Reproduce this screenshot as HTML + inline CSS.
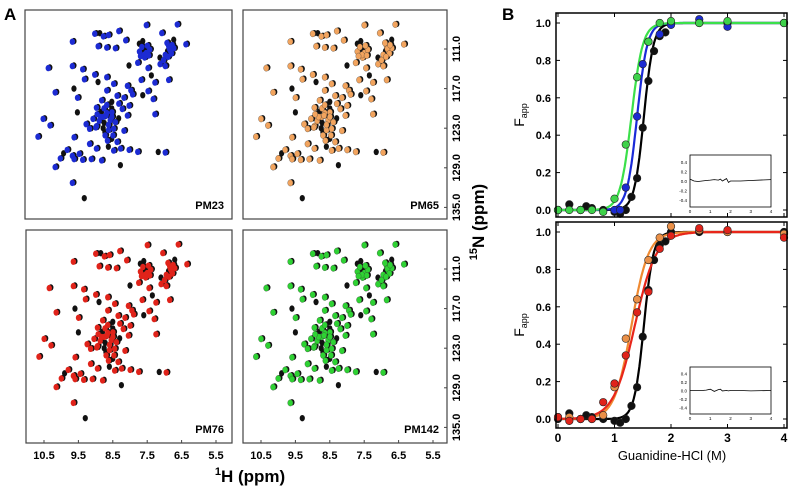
<!DOCTYPE html>
<html><head><meta charset="utf-8"><style>
html,body{margin:0;padding:0;background:#fff;width:792px;height:489px;overflow:hidden}
svg{display:block;font-family:"Liberation Sans",Arial,sans-serif}
</style></head><body>
<svg id="fig" width="792" height="489" viewBox="0 0 792 489"></svg>
<script>
// ---------- NMR data (ppm) ----------
const peakH=[9.6,8.95,8.85,8.7,8.55,8.25,8.05,7.6,7.45,7.0,6.55,6.3,6.7,6.8,6.75,6.9,6.65,7.55,7.45,7.65,7.5,7.35,7.7,8.35,8.6,8.85,7.05,7.1,
10.3,9.6,9.3,8.95,8.0,7.7,7.4,6.9,9.25,8.9,8.6,8.4,8.0,7.6,7.35,7.2,6.8,7.9,10.1,9.6,8.6,8.3,8.1,7.85,7.6,7.4,7.25,9.45,8.75,8.5,8.25,8.15,7.95,8.9,8.8,8.6,8.45,8.7,8.5,8.3,8.0,7.2,10.45,10.25,9.5,9.0,9.2,9.1,8.9,8.75,8.55,8.4,8.1,8.65,8.5,8.3,9.55,9.1,8.9,8.6,8.4,8.2,7.95,7.7,7.15,6.9,9.6,9.4,9.75,9.9,9.55,9.3,9.05,8.75,8.25,10.1,9.95,10.6,9.6,9.3,
7.58,7.52,7.42,7.62,7.48,7.38,6.85,6.78,6.72,6.88,6.82,6.7,6.95,8.82,8.72,8.62,8.55,8.68,8.78,8.5,8.42,8.35,8.92,8.88,8.7,8.6,8.45,8.58];
const peakN=[109.8,108.6,108.6,109.0,108.8,108.2,109.6,109.8,107.3,108.5,107.2,110.2,109.6,110.5,111.2,111.8,110.8,111.0,111.5,111.3,112.2,111.0,110.2,110.8,110.7,110.5,113.2,112.3,
113.8,113.5,114.0,114.8,113.5,113.0,113.8,113.5,115.5,116.0,115.2,116.2,116.5,115.6,115.0,116.0,115.6,117.2,117.5,117.0,117.2,118.0,118.3,117.8,118.0,117.3,118.5,118.3,118.7,119.0,119.2,120.0,119.5,119.8,120.5,120.6,120.5,121.2,121.7,121.5,121.0,120.8,121.5,122.5,120.6,121.5,122.3,123.0,122.6,123.0,123.2,123.0,123.3,124.0,124.6,125.0,124.3,125.3,126.0,125.8,126.3,126.0,126.2,126.5,126.6,126.6,127.1,126.8,126.2,126.8,127.6,127.7,127.6,127.8,128.6,128.8,127.5,124.2,131.2,133.6,
110.6,111.8,110.4,112.0,110.9,111.9,110.0,110.9,111.6,111.3,112.1,110.3,112.6,121.8,122.2,121.0,122.4,119.9,121.2,120.0,124.0,122.0,122.8,120.8,123.6,119.4,121.2,124.8];
const hTicks=[10.5,9.5,8.5,7.5,6.5,5.5];
const nTicks=[111.0,117.0,123.0,129.0,135.0];
const spectraNames=["PM23","PM65","PM76","PM142"];
const spectraColors=["#1c2bd2","#f2a45e","#e0231a","#2ed233"];
// ---------- Denaturation data ----------
const gdnX=[0,0.2,0.4,0.5,0.6,0.8,1.0,1.1,1.2,1.3,1.4,1.5,1.6,1.7,1.8,1.9,2.0,2.5,3.0,4.0];
const wtY=[0.0,0.03,0.0,0.02,0.01,0.0,-0.01,-0.02,0.0,0.07,0.17,0.44,0.69,0.85,0.93,0.95,1.0,1.0,1.0,1.0];
const pm23X=[0,0.4,1.0,1.1,1.2,1.4,1.5,1.6,1.8,2.0,2.5,3.0,4.0];
const pm23Y=[0,0,0.0,0.0,0.12,0.50,0.78,0.9,0.94,0.99,1.02,0.98,1.0];
const pm142X=[0,0.2,0.4,0.6,0.8,1.0,1.2,1.4,1.6,1.8,2.0,2.5,3.0,4.0];
const pm142Y=[0,0,0,0,-0.01,0.06,0.35,0.71,0.9,1.0,1.01,1.0,1.01,1.0];
const pm65X=[0,0.2,0.4,0.6,0.8,1.0,1.2,1.4,1.6,1.8,2.0,2.5,3.0,4.0];
const pm65Y=[0.01,0.01,0,0,0.02,0.17,0.43,0.64,0.85,0.97,1.03,1.01,1.0,0.99];
const pm76X=[0,0.2,0.4,0.6,0.8,1.0,1.2,1.4,1.6,1.8,2.0,2.5,3.0,4.0];
const pm76Y=[0.01,-0.01,0,0,0.09,0.19,0.34,0.57,0.68,0.91,0.98,1.02,1.01,0.97];
// fit parameters [midpoint, width]
const fitWT=[1.52,0.085],fitPM23=[1.4,0.09],fitPM142=[1.3,0.1],fitPM65=[1.3,0.15],fitPM76=[1.36,0.19];
const fTicks=[0.0,0.2,0.4,0.6,0.8,1.0];
const gTicks=[0,1,2,3,4];
const resX=[0,0.2,0.4,0.6,0.8,1.0,1.2,1.4,1.5,1.6,1.8,1.9,2.0,2.5,3.0,4.0];
const resTop=[0.04,0.0,-0.01,0.0,0.01,0.02,0.03,0.02,0.04,0.0,0.05,-0.03,0.0,0.0,0.01,0.03];
const resBot=[0,0,0,0,0.01,0.03,-0.02,0.02,0.03,-0.01,0.0,-0.01,0.0,0,-0.01,0];

const NS="http://www.w3.org/2000/svg";
const svg=document.getElementById('fig');
function mk(tag,attrs,parent,text){const e=document.createElementNS(NS,tag);for(const k in attrs)e.setAttribute(k,attrs[k]);if(text!==undefined)e.textContent=text;(parent||svg).appendChild(e);return e;}

// ---------- Panel A ----------
let t=mk('text',{x:4,y:20,'font-size':17,'font-weight':'bold'},svg,'A');


const boxes=[[25,10,232,219],[243,10,447,219],[26,230,232,443],[243,230,447,443]];
boxes.forEach((b,i)=>{
  const g=mk('g',{});
  
  
  const left=b[0],top=b[1];
  const hx=h=>left+18+(10.5-h)*34.4;
  const ny=n=>top+39+(n-111)*6.6;
  peakH.forEach((h,j)=>{
    const e=mk('ellipse',{cx:hx(h),cy:ny(peakN[j]),rx:2.6,ry:3.2,fill:'#111'},g);
    
    
  });
  peakH.forEach((h,j)=>{
    if(j%5===2) return;
    const e=mk('ellipse',{cx:hx(h)-1.6,cy:ny(peakN[j])+0.6,rx:2.7,ry:3.2,fill:spectraColors[i],stroke:i==1||i==3?'#333':'none','stroke-width':0.3},g);
    
    
  });
  const r=mk('rect',{x:b[0],y:b[1],width:b[2]-b[0],height:b[3]-b[1],fill:'none',stroke:'#444','stroke-width':1.2},g);
  
  
  const lb=mk('text',{x:b[2]-8,y:b[3]-10,'font-size':11,'font-weight':'bold','text-anchor':'end'},g,spectraNames[i]);
  
  
  if(i>=2){hTicks.forEach(h=>{
    mk('line',{x1:hx(h),x2:hx(h),y1:b[3],y2:b[3]-3,stroke:'#444'},g);
    const tl=mk('text',{x:hx(h),y:b[3]+16,'font-size':11,'font-weight':'bold','text-anchor':'middle'},g,h.toFixed(1));
    
    
  });}
  if(i%2===1){nTicks.forEach(n=>{
    mk('line',{x1:b[2],x2:b[2]-3,y1:ny(n),y2:ny(n),stroke:'#444'},g);
    const tl=mk('text',{x:b[2]+13,y:ny(n),'font-size':11,'font-weight':'bold','text-anchor':'middle',transform:`rotate(-90 ${b[2]+13} ${ny(n)})`},g,n.toFixed(1));
    
    
  });}
});
t=mk('text',{x:250,y:482,'font-size':17,'font-weight':'bold','text-anchor':'middle'},svg);
t.innerHTML='<tspan font-size="11" dy="-7">1</tspan><tspan dy="7">H (ppm)</tspan>';


t=mk('text',{x:484,y:222,'font-size':17,'font-weight':'bold','text-anchor':'middle',transform:'rotate(-90 484 222)'},svg);
t.innerHTML='<tspan font-size="11" dy="-7">15</tspan><tspan dy="7">N (ppm)</tspan>';



// ---------- Panel B ----------
t=mk('text',{x:502,y:20,'font-size':17,'font-weight':'bold'},svg,'B');


const sig=(x,p)=>1/(1+Math.exp(-(x-p[0])/p[1]));
function plot(top,bottom,y0,y1,series,res,name,showX){
  const g=mk('g',{});
  
  
  const L=556,R=787,gx=v=>558+v*56.5,fy=v=>y0+(y1-y0)*v;
  fTicks.forEach(v=>{
    mk('line',{x1:L,x2:L+4,y1:fy(v),y2:fy(v),stroke:'#000'},g);
    mk('line',{x1:R,x2:R-4,y1:fy(v),y2:fy(v),stroke:'#000'},g);
    const tl=mk('text',{x:L-5,y:fy(v)+4,'font-size':11,'font-weight':'bold','text-anchor':'end'},g,v.toFixed(1));
    
    
  });
  gTicks.forEach(v=>{mk('line',{x1:gx(v),x2:gx(v),y1:bottom,y2:bottom-4,stroke:'#000'},g);mk('line',{x1:gx(v),x2:gx(v),y1:top,y2:top+4,stroke:'#000'},g);
    if(showX){const tl=mk('text',{x:gx(v),y:bottom+14,'font-size':12,'font-weight':'bold','text-anchor':'middle'},g,String(v));
      
      }
  });
  series.forEach(s=>{
    let d='';for(let i=0;i<=200;i++){const x=i*4/200;d+=(i?'L':'M')+gx(x).toFixed(1)+','+fy(sig(x,s.fit)).toFixed(1);}
    const p=mk('path',{d:d,fill:'none',stroke:s.line,'stroke-width':2.2},g);
    
    
  });
  series.forEach(s=>{
    s.x.forEach((x,i)=>{
      const c=mk('circle',{cx:gx(x),cy:fy(s.y[i]),r:3.8,fill:s.fill,stroke:'#222','stroke-width':0.6},g);
      
      
    });
  });
  const fr=mk('rect',{x:L,y:top,width:R-L,height:bottom-top,fill:'none',stroke:'#000','stroke-width':1.5},g);
  
  
  const it=res.top,ib=res.bottom,il=690,ir=771,ix=v=>il+v*(ir-il)/4,iy=v=>it+(ib-it)/2-v*((ib-it)/2)/0.55;
  const ig=mk('g',{},g);
  
  
  mk('rect',{x:il,y:it,width:ir-il,height:ib-it,fill:'#fff',stroke:'#000','stroke-width':0.8},ig);
  [0.4,0.2,0,-0.2,-0.4].forEach(v=>mk('text',{x:il-3,y:iy(v)+2,'font-size':4.5,'text-anchor':'end'},ig,v.toFixed(1)));
  [0,1,2,3,4].forEach(v=>mk('text',{x:ix(v),y:ib+6,'font-size':4.5,'text-anchor':'middle'},ig,String(v)));
  let d='';resX.forEach((x,i)=>{d+=(i?'L':'M')+ix(x).toFixed(1)+','+iy(res.vals[i]).toFixed(1);});
  const rl=mk('path',{d:d,fill:'none',stroke:'#000','stroke-width':0.8},ig);
  
  
  const fl=mk('text',{x:524,y:(top+bottom)/2,'font-size':14,'text-anchor':'middle',transform:`rotate(-90 524 ${(top+bottom)/2})`},g);
  fl.innerHTML='F<tspan font-size="9" dy="3">app</tspan>';
  
  
}
plot(13,217,210,23,[
  {name:'wt',x:gdnX,y:wtY,fit:fitWT,line:'#000',fill:'#111'},
  {name:'pm23',x:pm23X,y:pm23Y,fit:fitPM23,line:'#1a2ad8',fill:'#1c2bd2'},
  {name:'pm142',x:pm142X,y:pm142Y,fit:fitPM142,line:'#3be04a',fill:'#3ed24a'}
],{top:155,bottom:207,vals:resTop},'denaturation-top',false);
plot(222,428,419,232,[
  {name:'wt',x:gdnX,y:wtY,fit:fitWT,line:'#000',fill:'#111'},
  {name:'pm65',x:pm65X,y:pm65Y,fit:fitPM65,line:'#ef8a32',fill:'#ea9048'},
  {name:'pm76',x:pm76X,y:pm76Y,fit:fitPM76,line:'#e8261a',fill:'#e0231a'}
],{top:367,bottom:414,vals:resBot},'denaturation-bottom',true);
t=mk('text',{x:672,y:460,'font-size':13,'text-anchor':'middle'},svg,'Guanidine-HCl (M)');


</script>
</body></html>
